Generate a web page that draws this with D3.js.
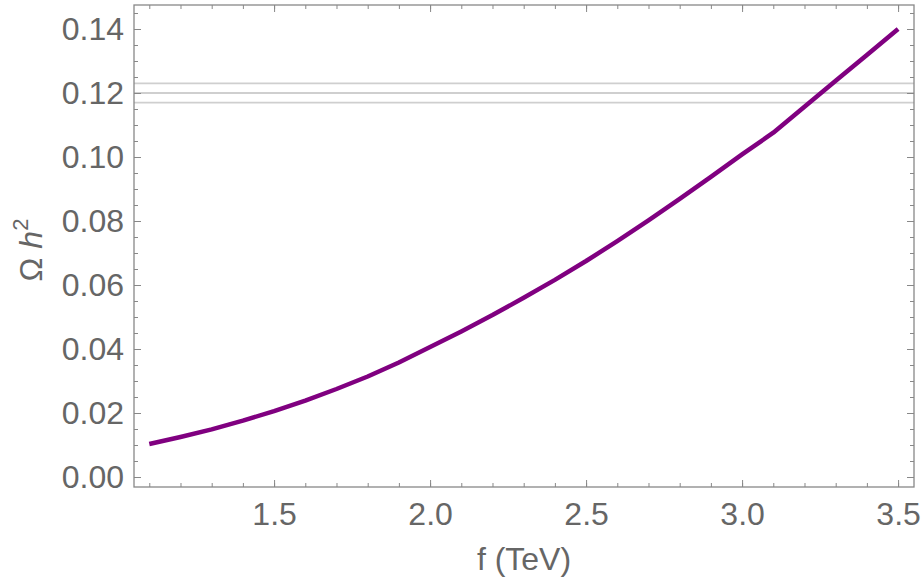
<!DOCTYPE html>
<html>
<head>
<meta charset="utf-8">
<script src="https://cdn.jsdelivr.net/npm/d3@7"></script>
<style>
  body { margin: 0; background: #fff; }
  text { font-family: "Liberation Sans", Arial, sans-serif; fill: #666; }
</style>
</head>
<body>
<svg width="923" height="581"></svg>
<script>
var svg = d3.select("svg");

// data
var fValues = [1.1, 1.2, 1.3, 1.4, 1.5, 1.6, 1.7, 1.8, 1.9, 2.0, 2.1, 2.2, 2.3,
               2.4, 2.5, 2.6, 2.7, 2.8, 2.9, 3.0, 3.1, 3.2, 3.3, 3.4, 3.5];
var omegaValues = [0.0103, 0.0125, 0.0149, 0.0176, 0.0206, 0.0239, 0.0275, 0.0314, 0.0358, 0.0406,
                   0.0455, 0.0506, 0.0560, 0.0616, 0.0675, 0.0737, 0.0802, 0.0869, 0.0938, 0.1008,
                   0.1076, 0.1157, 0.1238, 0.1319, 0.1400];
var refLines = [0.117, 0.120, 0.123];
var xTicks = [1.5, 2.0, 2.5, 3.0, 3.5];
var yTicks = [0.00, 0.02, 0.04, 0.06, 0.08, 0.10, 0.12, 0.14];

var pLeft = 134, pRight = 914, pTop = 5, pBottom = 487;
var fontSize = 32;

var x = d3.scaleLinear().domain([1.051, 3.551]).range([pLeft, pRight]);
var y = d3.scaleLinear().domain([-0.003125, 0.1475]).range([pBottom, pTop]);

var xMinor = d3.range(11, 36).map(function(d) { return d / 10; });
var yMinor = d3.range(0, 30).map(function(d) { return d * 0.005; });

var frameColor = "#888";

// reference band lines
svg.append("g")
  .selectAll("line")
  .data(refLines)
  .enter()
  .append("line")
  .attr("x1", pLeft)
  .attr("x2", pRight)
  .attr("y1", function(d) { return y(d); })
  .attr("y2", function(d) { return y(d); })
  .attr("stroke", "#cfcfcf")
  .attr("stroke-width", 1.8);

// the curve
var points = fValues.map(function(f, i) { return [f, omegaValues[i]]; });
var line = d3.line()
  .x(function(d) { return x(d[0]); })
  .y(function(d) { return y(d[1]); });

svg.append("path")
  .datum(points)
  .attr("d", line)
  .attr("fill", "none")
  .attr("stroke", "#800080")
  .attr("stroke-width", 4.5)
  .attr("stroke-linejoin", "round");

// axes: labelled bottom/left, bare ticks on top/right
function styleAxis(g) {
  g.select(".domain").remove();
  g.selectAll("line").attr("stroke", frameColor);
  g.selectAll("text").attr("fill", "#666").attr("font-size", fontSize)
    .attr("font-family", "Liberation Sans, Arial, sans-serif");
}

function addAxis(axisFn, scale, ticks, size, transform, labels, pad) {
  var a = axisFn(scale).tickValues(ticks).tickSizeInner(-size).tickSizeOuter(0);
  if (labels) {
    a.tickFormat(labels).tickPadding(pad);
  } else {
    a.tickFormat("");
  }
  var g = svg.append("g").attr("transform", transform).call(a);
  styleAxis(g);
  return g;
}

// bottom
addAxis(d3.axisBottom, x, xMinor, 4, "translate(0," + pBottom + ")", null);
addAxis(d3.axisBottom, x, xTicks, 7, "translate(0," + pBottom + ")", d3.format(".1f"), 15);
// top
addAxis(d3.axisTop, x, xMinor, 4, "translate(0," + pTop + ")", null);
addAxis(d3.axisTop, x, xTicks, 7, "translate(0," + pTop + ")", null);
// left
addAxis(d3.axisLeft, y, yMinor, 4, "translate(" + pLeft + ",0)", null);
addAxis(d3.axisLeft, y, yTicks, 7, "translate(" + pLeft + ",0)", d3.format(".2f"), 10);
// right
addAxis(d3.axisRight, y, yMinor, 4, "translate(" + pRight + ",0)", null);
addAxis(d3.axisRight, y, yTicks, 7, "translate(" + pRight + ",0)", null);

// frame
svg.append("rect")
  .attr("x", pLeft)
  .attr("y", pTop)
  .attr("width", pRight - pLeft)
  .attr("height", pBottom - pTop)
  .attr("fill", "none")
  .attr("stroke", frameColor)
  .attr("stroke-width", 1.3);

// axis titles
svg.append("text")
  .attr("x", (pLeft + pRight) / 2)
  .attr("y", 570)
  .attr("text-anchor", "middle")
  .attr("font-size", fontSize)
  .text("f (TeV)");

var yt = svg.append("text")
  .attr("transform", "translate(42,250) rotate(-90)")
  .attr("text-anchor", "middle")
  .attr("font-size", fontSize);
yt.append("tspan").text("Ω ");
yt.append("tspan").attr("font-style", "italic").text("h");
yt.append("tspan").attr("font-size", 22).attr("dy", -14).text("2");
</script>
</body>
</html>
